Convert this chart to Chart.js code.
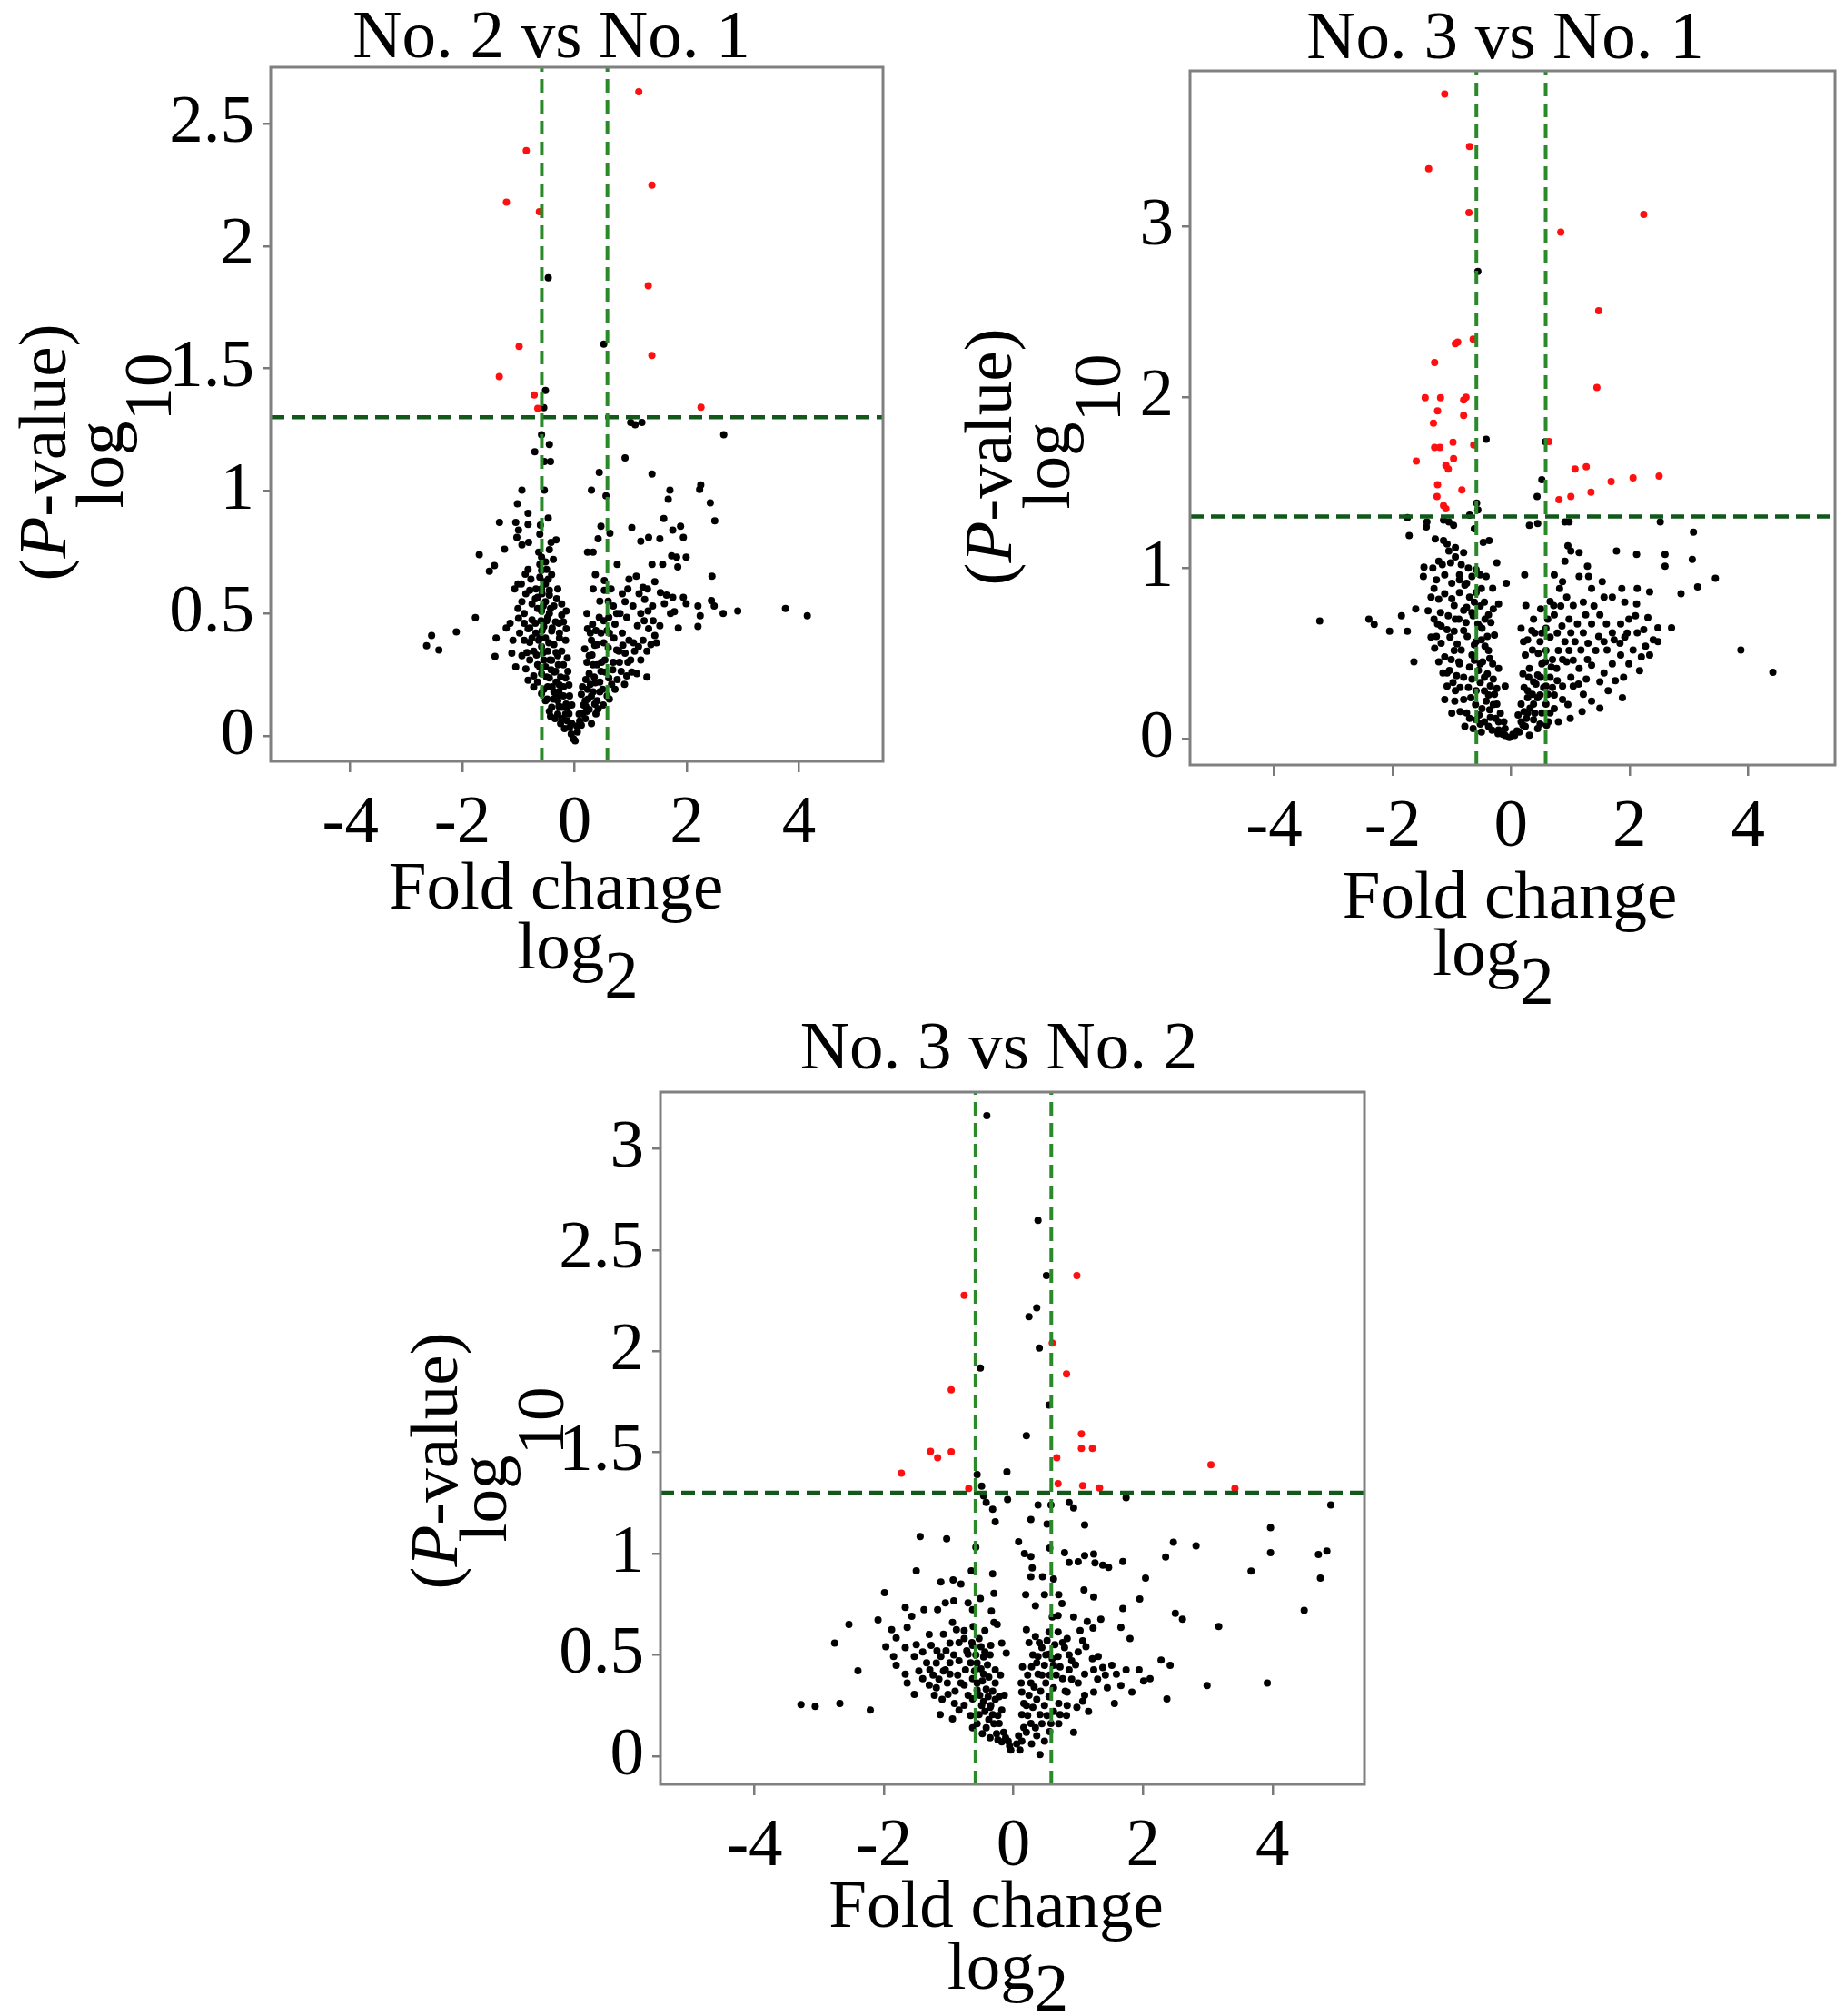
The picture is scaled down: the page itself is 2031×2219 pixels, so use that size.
<!DOCTYPE html>
<html>
<head>
<meta charset="utf-8">
<title>Volcano plots</title>
<script src="https://cdn.jsdelivr.net/npm/chart.js@4.4.1/dist/chart.umd.min.js"></script>
<style>
  html, body { margin: 0; padding: 0; background: #fff; }
  body { width: 2031px; height: 2219px; position: relative; overflow: hidden; }
  .panel { position: absolute; }
</style>
</head>
<body>
<div class="panel" style="left:0;top:0"><canvas id="c1" width="1010" height="1110"></canvas></div>
<div class="panel" style="left:1040px;top:0"><canvas id="c2" width="991" height="1120"></canvas></div>
<div class="panel" style="left:420px;top:1110px"><canvas id="c3" width="1110" height="1109"></canvas></div>
<script>
// cut-offs: |log2 FC| > log2(1.5), -log10 p > -log10(0.05)
const foldCut = 0.585;
const pCut = 1.301;

const titles = ['No. 2 vs No. 1', 'No. 3 vs No. 1', 'No. 3 vs No. 2'];
const xTicks = [-4, -2, 0, 2, 4];
const yTicks1 = [0, 0.5, 1, 1.5, 2, 2.5];
const yTicks2 = [0, 1, 2, 3];
const yTicks3 = [0, 0.5, 1, 1.5, 2, 2.5, 3];

// No. 2 vs No. 1
const sig1 = [[1.145,2.63],[-0.862,2.39],[1.378,2.249],[-1.216,2.179],[-0.629,2.14],[1.314,1.838],[-0.989,1.59],
  [1.378,1.553],[-1.343,1.467],[-0.72,1.392],[-0.657,1.337],[2.254,1.342]];
const ns1 = [[-0.47,1.87],[0.52,1.6],[-0.52,1.41],[-0.55,1.34],[1.0,1.28],[1.08,1.27],[1.2,1.28],
  [2.66,1.23],[0.90,1.135],[-0.59,1.23],[-0.45,1.19],[-0.54,1.12],[-0.43,1.12],[-0.71,1.16],[0.44,1.076],[1.38,1.069],
  [2.23,1.006],[2.25,1.025],[1.70,1.003],[1.67,0.966],[0.30,1.003],[0.56,0.98],[-0.94,1.003],[-0.54,1.003],[-1.02,0.948],
  [-0.83,0.909],[2.42,0.951],[2.50,0.878],[-1.34,0.872],[-1.05,0.872],[-1.0,0.84],[-0.83,0.863],[-0.47,0.889],[-0.61,0.86],
  [1.59,0.887],[1.89,0.856],[1.94,0.81],[1.75,0.84],[1.02,0.85],[0.47,0.856],[0.63,0.827],[0.42,0.805],[1.32,0.81],
  [1.18,0.795],[1.52,0.805],[-0.33,0.80],[-0.42,0.79],[-1.03,0.81],[-0.82,0.79],[-0.94,0.78],[-1.25,0.762],[-1.70,0.74],
  [-0.64,0.75],[-0.45,0.76],[-0.52,0.71],[-0.59,0.73],[0.23,0.75],[0.33,0.75],[1.73,0.735],[1.82,0.73],[1.99,0.73],
  [1.38,0.70],[1.57,0.70],[0.76,0.70],[1.84,0.69],[-1.43,0.695],[-1.52,0.672],[-0.83,0.68],[-0.88,0.66],[-0.59,0.676],
  [2.45,0.652],[0.97,0.64],[1.10,0.652],[0.37,0.658],[0.53,0.634],[1.43,0.63],[-1.01,0.62],[-0.78,0.64],[-0.80,0.594],
  [-0.55,0.63],[-0.45,0.594],[-0.59,0.60],[1.22,0.606],[0.33,0.60],[0.53,0.594],[1.53,0.585],[1.64,0.575],[1.75,0.566],
  [1.94,0.566],[1.99,0.54],[2.44,0.553],[2.49,0.53],[2.65,0.50],[2.91,0.51],[3.76,0.52],[4.15,0.49],[2.20,0.53],
  [2.24,0.49],[2.20,0.447],[1.85,0.44],[1.60,0.54],[1.71,0.50],[1.78,0.507],[1.25,0.557],[1.31,0.51],[1.18,0.50],
  [1.39,0.53],[0.90,0.548],[1.04,0.53],[0.93,0.484],[0.81,0.50],[0.69,0.53],[0.61,0.484],[0.72,0.456],[0.58,0.43],
  [0.44,0.484],[0.32,0.456],[0.47,0.42],[0.40,0.373],[0.23,0.438],[0.30,0.39],[0.18,0.355],[0.26,0.327],[1.32,0.438],
  [1.43,0.41],[1.22,0.39],[1.36,0.373],[1.14,0.364],[1.46,0.38],[0.97,0.39],[1.07,0.346],[0.90,0.337],[1.0,0.31],
  [1.18,0.31],[1.29,0.346],[0.79,0.346],[0.69,0.30],[0.83,0.263],[0.93,0.245],[1.11,0.254],[1.29,0.24],[0.54,0.31],
  [0.47,0.263],[0.61,0.236],[0.72,0.19],[0.58,0.163],[0.51,0.126],[0.33,0.29],[0.26,0.254],[0.37,0.217],[0.23,0.19],
  [0.30,0.163],[0.40,0.144],[0.19,0.144],[0.12,0.17],[0.16,0.126],[0.26,0.107],[0.08,0.089],[0.19,0.07],[0.12,0.043],
  [0.05,0.016],[-0.02,-0.012],[0.01,-0.021],[-0.06,0.007],[-0.09,0.034],[-0.13,0.061],
  [-0.16,0.089],[-0.23,0.117],[-0.30,0.144],[-0.20,0.163],[-0.37,0.18],[-0.27,0.208],[-0.45,0.236],[-0.34,0.263],
  [-0.52,0.282],[-0.41,0.309],[-0.30,0.327],[-0.48,0.346],[-0.59,0.364],[-0.37,0.373],[-0.52,0.40],[-0.27,0.40],
  [-0.41,0.428],[-0.55,0.447],[-0.34,0.465],[-0.48,0.484],[-0.23,0.493],[-0.59,0.51],[-0.37,0.53],[-0.52,0.548],
  [-0.66,0.566],[-0.45,0.575],[-0.69,0.60],[-0.52,0.62],[-0.62,0.648],[-0.41,0.658],[-0.73,0.346],[-0.80,0.31],
  [-0.66,0.29],[-0.59,0.254],[-0.73,0.245],[-0.87,0.273],[-0.94,0.327],[-0.80,0.382],[-0.90,0.39],[-0.69,0.42],
  [-0.83,0.438],[-0.76,0.474],[-1.12,0.337],[-1.05,0.282],[-0.83,0.227],[-0.73,0.199],[-0.59,0.172],[-0.52,0.144],
  [-0.41,0.117],[-0.30,0.089],[-1.22,0.44],[-1.40,0.40],[-1.42,0.324],[-1.77,0.483],[-2.11,0.425],[-2.55,0.41],
  [-2.64,0.368],[-2.42,0.35],[-0.87,0.58],[-0.94,0.548],[-1.01,0.52],[-0.76,0.539],[-0.90,0.50],[-0.62,0.823],
  [-0.23,0.539],[-0.15,0.51],[-0.20,0.465],[-0.15,0.438],[-0.27,0.42],[-0.16,0.39],[-0.23,0.346],[-0.13,0.318],
  [-0.20,0.29],[-0.12,0.263],[-0.16,0.236],[-0.10,0.208],[-0.20,0.20],[-0.09,0.163],[-0.05,0.126],[-0.13,0.117],
  [-0.35,0.07],[-0.25,0.05],[-0.18,0.03],[-0.45,0.10],[-0.38,0.15],[-0.28,0.18],[-0.48,0.2],[-0.42,0.27],[-0.33,0.22],
  [-0.55,0.31],[-0.62,0.40],[-0.45,0.5],[-0.3,0.6],[-0.6,0.47],[0.3,0.05],[0.22,0.1],[0.38,0.09],[0.45,0.18],
  [0.35,0.24],[0.6,0.36],[0.7,0.4],[0.52,0.38],[0.85,0.42],[0.95,0.6],[0.65,0.6],
  [-0.05,0.05],[-0.1,0.09],[-0.15,0.13],[-0.22,0.07],[-0.28,0.12],[-0.33,0.16],[-0.4,0.2],[-0.36,0.26],[-0.44,0.31],
  [-0.29,0.29],[-0.25,0.24],[-0.5,0.24],[-0.56,0.34],[-0.46,0.38],[-0.33,0.34],[-0.4,0.44],[-0.28,0.46],[-0.5,0.47],
  [-0.56,0.53],[-0.43,0.52],[-0.32,0.56],[-0.58,0.58],[-0.47,0.64],[-0.62,0.7],[-0.5,0.68],[-0.38,0.72],[-0.66,0.52],
  [-0.7,0.46],[-0.64,0.39],[-0.68,0.33],[-0.62,0.28],[-0.66,0.22],[-0.55,0.19],[-0.49,0.15],[-0.43,0.08],[-0.58,0.43],
  [-0.76,0.4],[-0.85,0.34],[-0.8,0.44],[-0.9,0.46],[-0.98,0.42],[-1.1,0.39],[-1.0,0.48],[-1.15,0.46],[-0.7,0.56],
  [-0.95,0.62],[-1.07,0.6],
  [0.04,0.04],[0.09,0.06],[0.14,0.09],[0.2,0.12],[0.24,0.15],[0.14,0.2],[0.2,0.23],[0.28,0.21],[0.33,0.18],[0.36,0.13],
  [0.42,0.11],[0.45,0.22],[0.4,0.29],[0.31,0.33],[0.36,0.37],[0.22,0.3],[0.48,0.3],[0.55,0.26],[0.5,0.19],[0.62,0.15],
  [0.66,0.21],[0.68,0.27],[0.76,0.23],[0.8,0.3],[0.75,0.35],[0.86,0.37],[0.95,0.3],[0.89,0.21],[1.02,0.26],[1.05,0.38],
  [0.62,0.42],[0.52,0.47],[0.38,0.43],[0.28,0.42],[0.45,0.55],[0.75,0.5],[0.85,0.58],[1.12,0.45],[1.24,0.47],[1.4,0.47],
  [1.52,0.45],[1.15,0.58],[1.3,0.6],[0.6,0.55],[0.22,0.5]];

// No. 3 vs No. 1
const sig2 = [[-1.12,3.775],[-0.70,3.467],[-1.39,3.337],[-0.71,3.08],[2.24,3.07],[0.84,2.966],[1.48,2.506],[-0.94,2.313],
  [-0.90,2.323],[-0.64,2.34],[-1.29,2.203],[1.45,2.057],[-1.45,1.997],[-1.19,1.997],[-0.80,1.984],[-0.76,2.0],[-1.24,1.92],
  [-0.80,1.893],[-1.31,1.848],[-0.98,1.736],[-1.29,1.705],[-1.20,1.705],[-0.63,1.72],[0.64,1.74],[-1.60,1.626],[-0.97,1.64],
  [-1.10,1.60],[-1.06,1.58],[1.08,1.58],[1.27,1.592],[1.69,1.506],[2.06,1.527],[2.50,1.538],[-1.24,1.488],[-1.25,1.418],
  [-0.83,1.457],[0.81,1.40],[1.01,1.418],[1.35,1.444],[-1.14,1.365],[-1.10,1.347]];
const ns2 = [[-0.56,2.736],[-0.42,1.754],[0.58,1.739],[0.52,1.517],[0.44,1.418],[-0.58,1.38],[-0.56,1.34],[-0.70,1.31],
  [-1.75,1.295],[-1.42,1.27],[-1.43,1.24],[-1.14,1.28],[-1.05,1.27],[-0.97,1.25],[-0.62,1.23],[0.31,1.25],[0.45,1.26],
  [0.91,1.27],[0.98,1.27],[2.52,1.27],[3.08,1.21],[-1.72,1.19],[-1.28,1.17],[-1.14,1.16],[-1.05,1.10],[-0.94,1.12],
  [-0.80,1.09],[-0.47,1.15],[-0.37,1.16],[0.96,1.13],[1.01,1.10],[1.15,1.09],[0.91,1.04],[1.78,1.10],[2.12,1.08],
  [2.60,1.08],[2.60,1.01],[3.06,1.05],[3.45,0.94],[3.15,0.89],[2.87,0.85],[-1.47,1.005],[-1.48,0.95],[-1.26,0.93],
  [-1.02,1.03],[-0.87,0.96],[-0.75,0.91],[-0.59,0.99],[-0.42,0.95],[-0.24,1.03],[-0.08,0.91],[0.23,0.96],[0.73,0.96],
  [0.87,0.92],[1.15,0.95],[1.29,1.01],[1.31,0.95],[1.54,0.92],[1.71,0.83],[1.87,0.88],[1.92,0.80],[2.13,0.88],[2.34,0.86],
  [2.12,0.79],[2.31,0.71],[2.48,0.65],[2.71,0.65],[-3.23,0.69],[-2.40,0.70],[-2.31,0.67],[-2.05,0.63],[-1.85,0.72],
  [-1.75,0.63],[-1.61,0.76],[-1.64,0.45],[3.88,0.52],[4.42,0.39],
  [-1.35,0.83],[-1.22,0.817],[-1.19,0.739],[-1.24,0.673],[-1.35,0.595],[-1.29,0.53],[-1.22,0.451],[-1.15,0.386],
  [-1.08,0.308],[-1.12,0.23],[-1.03,0.595],[-0.96,0.517],[-0.87,0.438],[-0.80,0.36],[-0.94,0.70],[-0.80,0.752],
  [-0.70,0.83],[-0.87,0.856],[-0.59,0.856],[-0.52,0.778],[-0.38,0.726],[-0.49,0.647],[-0.59,0.569],[-0.38,0.517],
  [-0.52,0.438],[-0.66,0.49],[-0.45,0.36],[-0.59,0.282],[-0.38,0.256],[-0.24,0.203],[-0.49,0.177],[-0.35,0.125],
  [-0.21,0.099],[-0.10,0.06],[-0.80,0.23],[-0.94,0.282],[-0.75,0.151],[-0.78,0.073],[-0.66,0.739],[-0.80,0.634],
  [-0.91,0.556],[-1.01,0.464],[-1.08,0.386],[-0.28,0.608],[-0.21,0.79],[-0.31,0.882],[-0.21,0.412],[-0.10,0.308],
  [-0.24,0.295],[-0.31,0.438],[-0.44,0.543],[-0.56,0.673],[-1.12,0.96],[-1.0,0.91],[-0.87,0.93],[-0.52,0.96],
  [-1.22,1.04],[-1.08,1.14],[-0.94,1.065],
  [0.10,0.047],[0.17,0.099],[0.28,0.151],[0.38,0.203],[0.49,0.256],[0.59,0.308],[0.66,0.36],[0.77,0.412],[0.87,0.464],
  [0.98,0.517],[1.08,0.569],[1.22,0.621],[1.36,0.673],[1.50,0.726],[0.17,0.203],[0.28,0.282],[0.38,0.334],[0.31,0.412],
  [0.24,0.491],[0.21,0.569],[0.17,0.647],[0.35,0.634],[0.49,0.569],[0.59,0.517],[0.70,0.464],[0.80,0.517],[0.91,0.569],
  [1.01,0.621],[1.12,0.673],[1.26,0.726],[1.40,0.778],[1.57,0.83],[0.73,0.726],[0.84,0.778],[0.94,0.83],[0.66,0.804],
  [0.59,0.647],[0.66,0.595],[0.52,0.438],[0.45,0.373],[0.52,0.151],[0.59,0.203],[0.73,0.256],[0.87,0.308],[1.01,0.36],
  [1.15,0.412],[1.29,0.464],[1.43,0.517],[1.57,0.569],[1.71,0.621],[1.85,0.673],[1.99,0.70],[2.13,0.621],[2.27,0.543],
  [1.99,0.438],[1.85,0.49],[1.71,0.438],[1.57,0.386],[1.64,0.282],[1.50,0.334],[1.27,0.35],[2.17,0.399],[2.34,0.49],
  [2.48,0.569],[1.05,0.308],[0.87,0.23],[0.73,0.177],[0.63,0.099],[0.45,0.06],[0.31,0.021],[1.92,0.595],[1.61,0.673],
  [-0.03,0.008],[0.03,0.026],[-0.14,0.026],[-0.21,0.052],[-0.52,0.086],[-0.38,0.073],[-0.59,0.112],[0.24,0.073],
  [0.38,0.112],[0.49,0.086],[0.66,0.151],
  [-0.12,0.1],[-0.18,0.15],[-0.26,0.12],[-0.3,0.2],[-0.36,0.17],[-0.42,0.22],[-0.28,0.26],[-0.35,0.31],[-0.45,0.28],
  [-0.52,0.33],[-0.4,0.38],[-0.3,0.35],[-0.55,0.4],[-0.48,0.45],[-0.36,0.47],[-0.62,0.46],[-0.7,0.42],[-0.66,0.35],
  [-0.72,0.3],[-0.68,0.24],[-0.6,0.2],[-0.54,0.14],[-0.45,0.1],[-0.62,0.55],[-0.5,0.58],[-0.4,0.6],[-0.74,0.6],
  [-0.84,0.52],[-0.88,0.45],[-0.92,0.37],[-0.86,0.3],[-0.98,0.33],[-1.04,0.4],[-1.12,0.48],[-1.18,0.56],[-1.08,0.64],
  [-0.96,0.63],[-0.88,0.7],[-0.76,0.68],[-0.64,0.72],[-0.54,0.66],[-0.44,0.7],[-0.34,0.68],[-0.3,0.76],[-0.45,0.8],
  [-0.62,0.8],[-0.75,0.77],[-0.96,0.78],[-1.06,0.72],[-1.18,0.66],[-1.3,0.7],[-1.26,0.6],[-1.4,0.75],[-1.3,0.88],
  [-1.12,0.85],[-1.0,0.82],[-0.78,0.9],[-0.66,0.95],[-0.5,0.88],[-0.72,1.0],[-0.84,1.02],[-1.16,1.02],[-1.32,1.0],
  [-0.7,0.12],[-0.64,0.06],[-0.32,0.05],[-0.22,0.03],[-0.1,0.02],[-0.5,0.04],[-0.86,0.16],[-0.95,0.22],[-1.0,0.15],
  [0.06,0.02],[0.14,0.04],[0.2,0.08],[0.26,0.12],[0.22,0.16],[0.32,0.18],[0.4,0.15],[0.45,0.24],[0.36,0.26],
  [0.28,0.24],[0.22,0.3],[0.3,0.36],[0.42,0.32],[0.55,0.3],[0.5,0.36],[0.62,0.26],[0.7,0.3],[0.78,0.34],[0.68,0.42],
  [0.58,0.45],[0.46,0.5],[0.36,0.52],[0.28,0.58],[0.4,0.62],[0.52,0.62],[0.62,0.7],[0.78,0.62],[0.86,0.66],[0.98,0.7],
  [1.05,0.78],[0.82,0.88],[0.94,0.45],[1.05,0.46],[1.18,0.52],[1.3,0.56],[1.14,0.32],[1.22,0.26],[1.36,0.43],[1.48,0.6],
  [1.62,0.52],[1.74,0.58],[1.84,0.56],[1.96,0.62],[2.06,0.52],[2.2,0.48],[2.1,0.72],[2.24,0.64],[2.4,0.58],[1.76,0.34],
  [1.9,0.36],[1.88,0.24],[1.36,0.22],[1.2,0.16],[1.0,0.12],[0.8,0.1],[0.6,0.08],[0.96,0.2],[1.5,0.18],[0.38,0.7],
  [0.25,0.78],[0.5,0.76],[0.72,0.78],[1.22,0.8],[1.36,0.88],[0.2,0.38],[0.12,0.14]];

// No. 3 vs No. 2
const sig3 = [[0.98,2.373],[-0.76,2.276],[0.60,2.04],[0.82,1.888],[-0.96,1.809],[1.05,1.591],[-1.28,1.505],[-1.17,1.474],
  [-0.96,1.503],[1.05,1.52],[1.22,1.52],[0.67,1.474],[-1.73,1.397],[3.05,1.439],[-0.69,1.322],[0.69,1.346],[1.07,1.335],
  [1.33,1.324],[3.42,1.322]];
const ns3 = [[-0.41,3.163],[0.38,2.646],[0.51,2.373],[0.36,2.214],[0.24,2.17],[0.40,2.016],[-0.51,1.917],[0.55,1.734],
  [0.20,1.582],[-0.10,1.404],[-0.56,1.39],[-0.49,1.333],
  [-0.46,1.285],[-0.42,1.252],[-0.32,1.219],[-0.28,1.157],[-0.09,1.267],[0.38,1.24],[0.58,1.24],[0.86,1.252],[0.93,1.225],
  [1.74,1.276],[4.90,1.24],[0.27,1.168],[0.52,1.146],[1.10,1.141],[-1.44,1.084],[-1.03,1.073],[-0.58,1.031],[0.08,1.058],
  [0.56,1.027],[0.79,1.005],[1.10,0.99],[1.24,0.998],[1.26,0.954],[1.38,0.943],[1.47,0.932],[1.69,0.961],[2.35,0.983],
  [2.47,1.056],[2.82,1.038],[3.97,1.128],[3.97,1.005],[4.71,0.996],[4.84,1.012],[4.74,0.879],[3.67,0.914],[4.49,0.719],
  [3.17,0.64],[2.04,0.879],[1.95,0.776],[1.69,0.729],[2.50,0.705],[2.61,0.676],
  [0.17,1.00],[0.27,0.985],[0.29,0.929],[0.27,0.885],[0.45,0.885],[0.62,0.874],[0.86,0.956],[1.0,0.96],[1.09,0.82],
  [1.24,0.786],[0.70,0.797],[0.75,0.753],[0.48,0.797],[0.19,0.797],[0.34,0.742],[0.60,0.687],[0.69,0.694],[0.93,0.687],
  [1.14,0.665],[1.03,0.62],[1.23,0.632],[1.35,0.676],
  [-1.50,0.915],[-1.12,0.86],[-0.93,0.87],[-0.81,0.85],[-0.65,0.915],[-0.32,0.90],[-0.30,0.804],[-1.99,0.807],
  [-1.67,0.734],[-1.57,0.69],[-1.38,0.723],[-1.17,0.723],[-1.05,0.756],[-0.92,0.767],[-0.70,0.756],[-0.63,0.723],
  [-0.51,0.778],[-0.34,0.716],[-0.25,0.65],[-2.54,0.65],[-2.09,0.672],[-2.76,0.558],[-2.40,0.421],[-1.88,0.624],
  [-1.81,0.584],[-1.64,0.635],[-1.97,0.54],[-1.85,0.492],[-1.67,0.536],[-1.53,0.492],[-1.40,0.514],[-1.27,0.547],
  [-1.19,0.459],[-1.08,0.602],[-0.98,0.558],[-0.88,0.624],[-0.76,0.58],[-0.63,0.547],[-0.53,0.58],[-0.44,0.514],
  [-0.35,0.547],[-0.18,0.558],[-0.11,0.509],[-3.28,0.254],[-3.06,0.245],[-2.68,0.26],[-2.21,0.227],
  [-1.81,0.448],[-1.67,0.404],[-1.64,0.36],[-1.53,0.304],[-1.40,0.382],[-1.29,0.426],[-1.19,0.337],[-1.13,0.205],
  [-0.94,0.183],[-1.01,0.304],[-0.91,0.26],[-0.81,0.36],[-0.98,0.404],[-0.74,0.426],[-0.63,0.382],[-0.56,0.326],
  [-0.46,0.404],[-0.63,0.282],[-0.49,0.249],[-0.39,0.293],[-0.28,0.36],[-0.32,0.205],[-0.22,0.161],[-0.15,0.117],
  [-0.08,0.073],[-0.04,0.029],[-0.42,0.139],[-0.53,0.205],[-0.63,0.139],[-0.84,0.227],[-1.05,0.426],[-1.12,0.492],
  [-0.84,0.47],[-0.70,0.503],[-0.56,0.459],[-0.28,0.426],[-0.22,0.293],[-0.35,0.249],[-0.18,0.227],
  [0.10,0.029],[0.13,0.073],[0.20,0.117],[0.27,0.161],[0.13,0.205],[0.20,0.249],[0.13,0.315],[0.27,0.36],[0.38,0.404],
  [0.48,0.448],[0.38,0.492],[0.44,0.536],[0.55,0.503],[0.62,0.448],[0.69,0.492],[0.79,0.536],[0.90,0.47],[1.0,0.514],
  [0.86,0.426],[0.76,0.382],[0.62,0.337],[0.55,0.293],[0.48,0.249],[0.41,0.205],[0.34,0.139],[0.48,0.073],[0.41,0.007],
  [0.58,0.161],[0.72,0.205],[0.83,0.249],[0.93,0.117],[1.07,0.271],[1.24,0.315],[1.45,0.337],[1.56,0.26],[1.66,0.348],
  [1.83,0.315],[2.01,0.37],[2.11,0.382],[2.28,0.474],[2.42,0.448],[2.37,0.282],[2.99,0.348],[3.92,0.36],[1.38,0.437],
  [1.52,0.448],[1.31,0.492],[1.59,0.404],[1.74,0.426],[1.10,0.404],[1.24,0.426],[1.0,0.36],[0.83,0.315],[1.66,0.635],
  [1.80,0.58],[1.94,0.426],[0.20,0.624],[0.34,0.59],[0.69,0.613],[0.55,0.613],[0.83,0.58],[1.07,0.569],
  [-0.06,0.05],[-0.12,0.09],[-0.18,0.07],[-0.26,0.11],[-0.3,0.16],[-0.24,0.2],[-0.38,0.18],[-0.44,0.22],[-0.36,0.24],
  [-0.28,0.28],[-0.46,0.27],[-0.52,0.3],[-0.42,0.33],[-0.32,0.32],[-0.56,0.36],[-0.48,0.37],[-0.38,0.39],[-0.6,0.42],
  [-0.5,0.43],[-0.4,0.45],[-0.66,0.46],[-0.58,0.5],[-0.46,0.49],[-0.72,0.52],[-0.64,0.56],[-0.5,0.54],[-0.36,0.5],
  [-0.76,0.62],[-0.84,0.56],[-0.92,0.5],[-0.98,0.46],[-1.08,0.42],[-1.15,0.38],[-0.86,0.4],[-0.76,0.35],[-0.7,0.3],
  [-0.76,0.25],[-0.66,0.2],[-0.56,0.16],[-0.48,0.11],[-0.36,0.09],[-0.9,0.32],[-1.02,0.36],[-1.1,0.28],[-1.22,0.3],
  [-1.3,0.35],[-1.24,0.4],[-1.34,0.46],[-1.46,0.42],[-1.5,0.55],[-1.3,0.6],[-1.18,0.52],[-1.04,0.52],[-0.94,0.66],
  [-0.62,0.64],[-0.44,0.62],[-0.3,0.66],[-0.2,0.4],[-0.14,0.3],[-0.24,0.08],
  [0.05,0.06],[0.08,0.1],[0.16,0.14],[0.22,0.2],[0.16,0.26],[0.24,0.3],[0.3,0.24],[0.36,0.28],[0.32,0.34],[0.42,0.32],
  [0.5,0.36],[0.44,0.4],[0.56,0.4],[0.66,0.4],[0.72,0.44],[0.6,0.48],[0.5,0.5],[0.36,0.46],[0.28,0.44],[0.22,0.4],
  [0.3,0.5],[0.4,0.56],[0.52,0.57],[0.64,0.55],[0.76,0.56],[0.86,0.5],[0.96,0.45],[0.9,0.38],[0.8,0.32],[0.7,0.26],
  [0.62,0.22],[0.52,0.2],[0.44,0.16],[0.36,0.1],[0.28,0.06],[0.56,0.12],[0.7,0.16],[0.82,0.2],[0.98,0.24],[1.1,0.3],
  [1.16,0.22],[1.3,0.38],[1.42,0.4],[1.22,0.48],[1.12,0.54],[0.24,0.56],[0.14,0.44],[0.12,0.36]];

const serif = '"Liberation Serif", "Times New Roman", serif';
const fontSize = 75;
const plain = fontSize + 'px ' + serif;
const italic = 'italic ' + fontSize + 'px ' + serif;

// draw a list of text pieces centred on (x, y), each piece may shift its baseline
function drawRuns(ctx, runs, x, y) {
  let w = 0;
  for (const r of runs) { ctx.font = r.f || plain; w += ctx.measureText(r.t).width; }
  let u = x - w / 2;
  for (const r of runs) {
    ctx.font = r.f || plain;
    ctx.fillText(r.t, u, y + (r.dy || 0));
    u += ctx.measureText(r.t).width;
  }
}

const framePlugin = {
  id: 'frame',
  afterDraw(chart, args, o) {
    const { ctx, chartArea: a } = chart;
    const cx = (a.left + a.right) / 2;
    ctx.save();
    ctx.strokeStyle = '#808080';
    ctx.lineWidth = 3;
    ctx.strokeRect(a.left, a.top, a.right - a.left, a.bottom - a.top);
    ctx.fillStyle = '#000';
    ctx.textAlign = 'left';
    ctx.textBaseline = 'alphabetic';
    drawRuns(ctx, [{ t: o.title }], cx + o.titleDx, a.top + o.titleDy);
    drawRuns(ctx, [{ t: 'Fold change' }], cx + o.foldDx, a.bottom + o.foldDy);
    drawRuns(ctx, [{ t: 'log' }, { t: '2', dy: o.xSub }], cx + o.logDx, a.bottom + o.logDy);

    ctx.save();
    ctx.translate(a.left + o.pvX, a.top + o.pvY);
    ctx.rotate(-Math.PI / 2);
    drawRuns(ctx, [{ t: '(' }, { t: 'P', f: italic }, { t: '-value)' }], 0, 0);
    ctx.restore();

    ctx.save();
    ctx.translate(a.left + o.lgX, a.top + o.lgY);
    ctx.rotate(-Math.PI / 2);
    drawRuns(ctx, [{ t: 'log' }, { t: '10', dy: o.ySub }], 0, 0);
    ctx.restore();
    ctx.restore();
  }
};

function pts(arr) {
  return arr.map(([x, y]) => ({ x, y }));
}

function makeChart(id, p) {
  const cutLine = (data, color, width) => ({
    type: 'line', data, showLine: true, borderColor: color, borderWidth: width,
    borderDash: [15, 8], pointRadius: 0, fill: false, order: 0
  });
  const ticksOf = vals => s => { s.ticks = vals.map(v => ({ value: v })); };
  new Chart(document.getElementById(id), {
    type: 'scatter',
    data: {
      datasets: [
        cutLine([{ x: -foldCut, y: p.yMin }, { x: -foldCut, y: p.yMax }], '#2a8a2a', 4),
        cutLine([{ x: foldCut, y: p.yMin }, { x: foldCut, y: p.yMax }], '#2a8a2a', 4),
        cutLine([{ x: p.xMin, y: pCut }, { x: p.xMax, y: pCut }], '#12581a', 4.5),
        { label: 'significant', data: pts(p.sig), backgroundColor: '#ff1010', borderWidth: 0, pointRadius: 4, order: 1 },
        { label: 'not significant', data: pts(p.ns), backgroundColor: '#000', borderWidth: 0, pointRadius: 4, order: 2 }
      ]
    },
    options: {
      responsive: false,
      animation: false,
      layout: { padding: p.pad },
      plugins: {
        legend: { display: false },
        tooltip: { enabled: false },
        frame: p.text
      },
      scales: {
        x: {
          type: 'linear', position: 'bottom', min: p.xMin, max: p.xMax,
          afterBuildTicks: ticksOf(xTicks),
          afterFit: s => { s.height = p.xH; },
          border: { display: false },
          grid: { drawOnChartArea: false, drawTicks: true, tickLength: 12, color: '#7a7a7a', lineWidth: 2.5 },
          ticks: { autoSkip: false, maxRotation: 0, padding: 12, color: '#000', font: { family: serif, size: fontSize },
            callback: v => String(v) }
        },
        y: {
          type: 'linear', position: 'left', min: p.yMin, max: p.yMax,
          afterBuildTicks: ticksOf(p.yTicks),
          afterFit: s => { s.width = p.yW; },
          border: { display: false },
          grid: { drawOnChartArea: false, drawTicks: true, tickLength: 9, color: '#7a7a7a', lineWidth: 2.5 },
          ticks: { autoSkip: false, padding: 9, color: '#000', font: { family: serif, size: fontSize },
            callback: v => String(v) }
        }
      }
    },
    plugins: [framePlugin]
  });
}

makeChart('c1', {
  sig: sig1, ns: ns1, yTicks: yTicks1, xMin: -5.42, xMax: 5.5, yMin: -0.104, yMax: 2.73,
  pad: { top: 74, right: 38, left: 0, bottom: 0 }, yW: 298, xH: 272,
  text: { title: titles[0], titleDx: -28, titleDy: -11, foldDx: -23, foldDy: 162, logDx: 1, logDy: 228, xSub: 32,
    pvX: -226, pvY: 424, lgX: -163, lgY: 400, ySub: 53 }
});
makeChart('c2', {
  sig: sig2, ns: ns2, yTicks: yTicks2, xMin: -5.42, xMax: 5.47, yMin: -0.153, yMax: 3.91,
  pad: { top: 78, right: 11, left: 0, bottom: 0 }, yW: 270, xH: 278,
  text: { title: titles[1], titleDx: -8, titleDy: -14, foldDx: -3, foldDy: 168, logDx: -21, logDy: 231, xSub: 32,
    pvX: -197, pvY: 425, lgX: -133, lgY: 397, ySub: 56 }
});
makeChart('c3', {
  sig: sig3, ns: ns3, yTicks: yTicks3, xMin: -5.45, xMax: 5.42, yMin: -0.14, yMax: 3.28,
  pad: { top: 92, right: 28, left: 0, bottom: 0 }, yW: 307, xH: 255,
  text: { title: titles[2], titleDx: -15, titleDy: -26, foldDx: -18, foldDy: 157, logDx: -5, logDy: 225, xSub: 24,
    pvX: -224, pvY: 406, lgX: -170, lgY: 410, ySub: 63 }
});
</script>
</body>
</html>
